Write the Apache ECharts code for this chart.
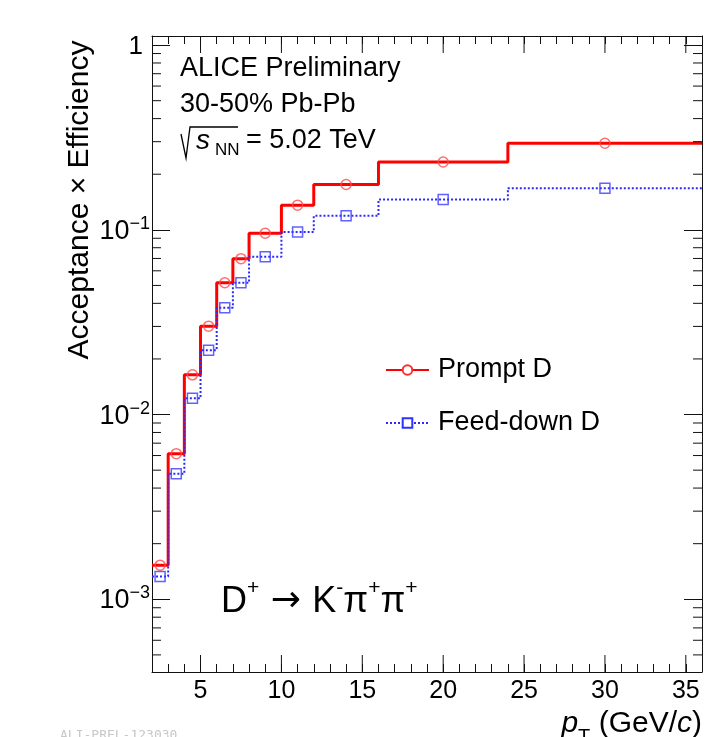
<!DOCTYPE html>
<html>
<head>
<meta charset="utf-8">
<script src="https://cdn.jsdelivr.net/npm/echarts@6/dist/echarts.min.js"></script>
<style>
  html, body { margin: 0; padding: 0; background: #fff; }
  #chart { width: 718px; height: 737px; }
</style>
</head>
<body>
<div id="chart"></div>
<script>
// pT bin edges (GeV/c) and acceptance x efficiency per bin
const binEdges = [2, 3, 4, 5, 6, 7, 8, 10, 12, 16, 24, 36];
const promptD = [0.00153, 0.00614, 0.0164, 0.0301, 0.0517, 0.0698, 0.0958, 0.136, 0.176, 0.233, 0.294];
const feedDownD = [0.00133, 0.00478, 0.01225, 0.0223, 0.0379, 0.0517, 0.0716, 0.0973, 0.119, 0.146, 0.168];

// axis ranges and ticks
const xRange = [2, 36];
const yRange = [4.04e-4, 1.12];
const xMajorTicks = [5, 10, 15, 20, 25, 30, 35];
const yDecades = [1e-4, 1e-3, 1e-2, 1e-1];
const yMinorMult = [2, 3, 4, 5, 6, 7, 8, 9];

const FONT = '"Liberation Sans", Arial, Helvetica, sans-serif';
const AXIS_COLOR = '#111';

const binCenters = binEdges.slice(0, -1).map((e, i) => (e + binEdges[i + 1]) / 2);
const stepPoints = vals => binEdges.map((e, i) => [e, vals[Math.min(i, vals.length - 1)]]);
const markerPoints = vals => binCenters.map((c, i) => [c, vals[i]]);

const yMinorTicks = [];
yDecades.forEach(d => yMinorMult.forEach(m => {
  const v = d * m;
  if (v > yRange[0] && v < yRange[1]) yMinorTicks.push(v);
}));

const chart = echarts.init(document.getElementById('chart'), null, { renderer: 'canvas' });

const xAxisBase = {
  type: 'value',
  min: xRange[0],
  max: xRange[1],
  interval: 1,
  axisLine: { show: true, onZero: false, lineStyle: { color: AXIS_COLOR, width: 1 } },
  axisTick: { show: true, inside: true, length: 8, lineStyle: { color: AXIS_COLOR, width: 1 } },
  splitLine: { show: false }
};

const yAxisBase = {
  type: 'log',
  logBase: 10,
  min: yRange[0],
  max: yRange[1],
  axisLine: { show: true, onZero: false, lineStyle: { color: AXIS_COLOR, width: 1 } },
  axisTick: { show: true, inside: true, length: 18, lineStyle: { color: AXIS_COLOR, width: 1 } },
  splitLine: { show: false },
  minorTick: { show: false }
};

const option = {
  backgroundColor: '#fff',
  animation: false,
  grid: { left: 152, right: 16, top: 36, bottom: 65, containLabel: false, outerBoundsMode: 'none' },
  xAxis: [
    {
      ...xAxisBase,
      position: 'bottom',
      axisLabel: {
        show: true,
        margin: 7,
        fontSize: 25,
        fontFamily: FONT,
        color: '#000',
        formatter: v => (v % 5 === 0 ? String(v) : '')
      }
    },
    { ...xAxisBase, position: 'top', axisLabel: { show: false } }
  ],
  yAxis: [
    {
      ...yAxisBase,
      position: 'left',
      axisLabel: {
        show: true,
        margin: 2,
        showMinLabel: false,
        showMaxLabel: false,
        fontFamily: FONT,
        color: '#000',
        formatter: v => {
          const e = Math.round(Math.log10(v));
          if (Math.abs(Math.log10(v) - e) > 1e-6) return '';
          if (e === 0) return '{one|1}';
          return '{b|10}{e|\u2212' + (-e) + '}';
        },
        rich: {
          one: { fontSize: 26, fontFamily: FONT, color: '#000', padding: [0, 7, 0, 0], lineHeight: 30, verticalAlign: 'bottom' },
          b: { fontSize: 27, fontFamily: FONT, color: '#000', lineHeight: 30, verticalAlign: 'bottom' },
          e: { fontSize: 18, fontFamily: FONT, color: '#000', lineHeight: 18, verticalAlign: 'top' }
        }
      }
    },
    { ...yAxisBase, position: 'right', axisLabel: { show: false } }
  ],
  legend: {
    data: ['Prompt D', 'Feed-down D'],
    orient: 'vertical',
    left: 385,
    top: 355,
    padding: 0,
    itemWidth: 43,
    itemHeight: 12,
    itemGap: 23,
    selectedMode: false,
    textStyle: { fontSize: 27, fontFamily: FONT, color: '#000', lineHeight: 30, padding: [0, 0, 0, 4] }
  },
  graphic: [
    { type: 'text', left: 180, top: 55, style: { text: 'ALICE Preliminary', fontSize: 27, fontFamily: FONT, fill: '#000' } },
    { type: 'text', left: 180, top: 91, style: { text: '30-50% Pb-Pb', fontSize: 27, fontFamily: FONT, fill: '#000' } },
    {
      // radical sign drawn as in ROOT's #sqrt
      type: 'polyline',
      shape: { points: [[181, 134], [186, 158], [190, 127], [238, 127]] },
      style: { stroke: '#000', lineWidth: 1.3, fill: null }
    },
    { type: 'text', left: 196, top: 127, style: { text: 's', fontSize: 28, fontStyle: 'italic', fontFamily: FONT, fill: '#000' } },
    { type: 'text', left: 215, top: 142, style: { text: 'NN', fontSize: 17, fontFamily: FONT, fill: '#000' } },
    { type: 'text', left: 246, top: 127, style: { text: '= 5.02 TeV', fontSize: 27, fontFamily: FONT, fill: '#000' } },
    {
      type: 'text', left: 221, top: 578,
      style: {
        text: '{n|D}{s|+}{a| \u2192 }{n|K}{s|-}{n|\u03C0}{s|+}{n|\u03C0}{s|+}',
        rich: {
          n: { fontSize: 36, fontFamily: FONT, fill: '#000', lineHeight: 42, verticalAlign: 'bottom' },
          a: { fontSize: 36, fontFamily: '"DejaVu Sans", sans-serif', fill: '#000', lineHeight: 42, verticalAlign: 'bottom' },
          s: { fontSize: 21, fontFamily: FONT, fill: '#000', lineHeight: 21, verticalAlign: 'top' }
        }
      }
    },
    {
      type: 'text', right: 16, top: 709,
      style: {
        text: '{i|p}{t|T}{n| (GeV/}{i|c}{n|)}',
        rich: {
          i: { fontSize: 30, fontStyle: 'italic', fontFamily: FONT, fill: '#000', lineHeight: 44, verticalAlign: 'top' },
          n: { fontSize: 30, fontFamily: FONT, fill: '#000', lineHeight: 44, verticalAlign: 'top' },
          t: { fontSize: 20, fontFamily: FONT, fill: '#000', lineHeight: 20, verticalAlign: 'bottom', padding: [0, 0, 6, 0] }
        }
      }
    },
    {
      type: 'text', x: 80, y: 200,
      rotation: Math.PI / 2,
      style: { text: 'Acceptance \u00D7 Efficiency', fontSize: 30, fontFamily: FONT, fill: '#000', align: 'center', verticalAlign: 'middle' }
    },
    { type: 'text', left: 60, top: 729, style: { text: 'ALI-PREL-123030', fontSize: 13, fontFamily: '"DejaVu Sans Mono", monospace', fill: '#c8c8c8' } }
  ],
  series: [
    {
      name: 'Prompt D',
      type: 'line',
      step: 'end',
      data: stepPoints(promptD),
      symbol: 'emptyCircle',
      symbolSize: 10,
      showSymbol: false,
      itemStyle: { color: '#ff3030', borderWidth: 1.5 },
      lineStyle: { color: '#ff0000', width: 3 },
      z: 2
    },
    {
      name: 'Feed-down D',
      type: 'line',
      step: 'end',
      data: stepPoints(feedDownD),
      symbol: 'emptyRect',
      symbolSize: 10,
      showSymbol: false,
      itemStyle: { color: '#3030ff', borderWidth: 1.5 },
      lineStyle: { color: '#2a2aff', width: 2, type: [2, 2] },
      z: 3
    },
    {
      name: 'Prompt D',
      type: 'scatter',
      data: markerPoints(promptD),
      symbol: 'circle',
      symbolSize: 10,
      itemStyle: { color: 'rgba(0,0,0,0)', borderColor: '#ff4a4a', borderWidth: 1.5 },
      z: 4
    },
    {
      name: 'Feed-down D',
      type: 'scatter',
      data: markerPoints(feedDownD),
      symbol: 'rect',
      symbolSize: 10,
      itemStyle: { color: 'rgba(0,0,0,0)', borderColor: '#3a3aff', borderWidth: 1.5 },
      z: 4
    },
    {
      // longer x ticks every 5 GeV/c on bottom and top
      type: 'custom',
      silent: true,
      z: 6,
      data: xMajorTicks.map(v => [v, yRange[0]]),
      renderItem: (params, api) => {
        const x = api.value(0);
        const b = api.coord([x, yRange[0]]);
        const t = api.coord([x, yRange[1]]);
        const st = { stroke: AXIS_COLOR, lineWidth: 1 };
        return {
          type: 'group',
          children: [
            { type: 'line', shape: { x1: b[0], y1: b[1], x2: b[0], y2: b[1] - 17 }, style: st },
            { type: 'line', shape: { x1: t[0], y1: t[1], x2: t[0], y2: t[1] + 17 }, style: st }
          ]
        };
      }
    },
    {
      // minor log ticks on left and right
      type: 'custom',
      silent: true,
      z: 6,
      data: yMinorTicks.map(v => [xRange[0], v]),
      renderItem: (params, api) => {
        const v = api.value(1);
        const l = api.coord([xRange[0], v]);
        const r = api.coord([xRange[1], v]);
        const st = { stroke: AXIS_COLOR, lineWidth: 1 };
        return {
          type: 'group',
          children: [
            { type: 'line', shape: { x1: l[0], y1: l[1], x2: l[0] + 9, y2: l[1] }, style: st },
            { type: 'line', shape: { x1: r[0], y1: r[1], x2: r[0] - 9, y2: r[1] }, style: st }
          ]
        };
      }
    }
  ]
};

chart.setOption(option);
</script>
</body>
</html>
